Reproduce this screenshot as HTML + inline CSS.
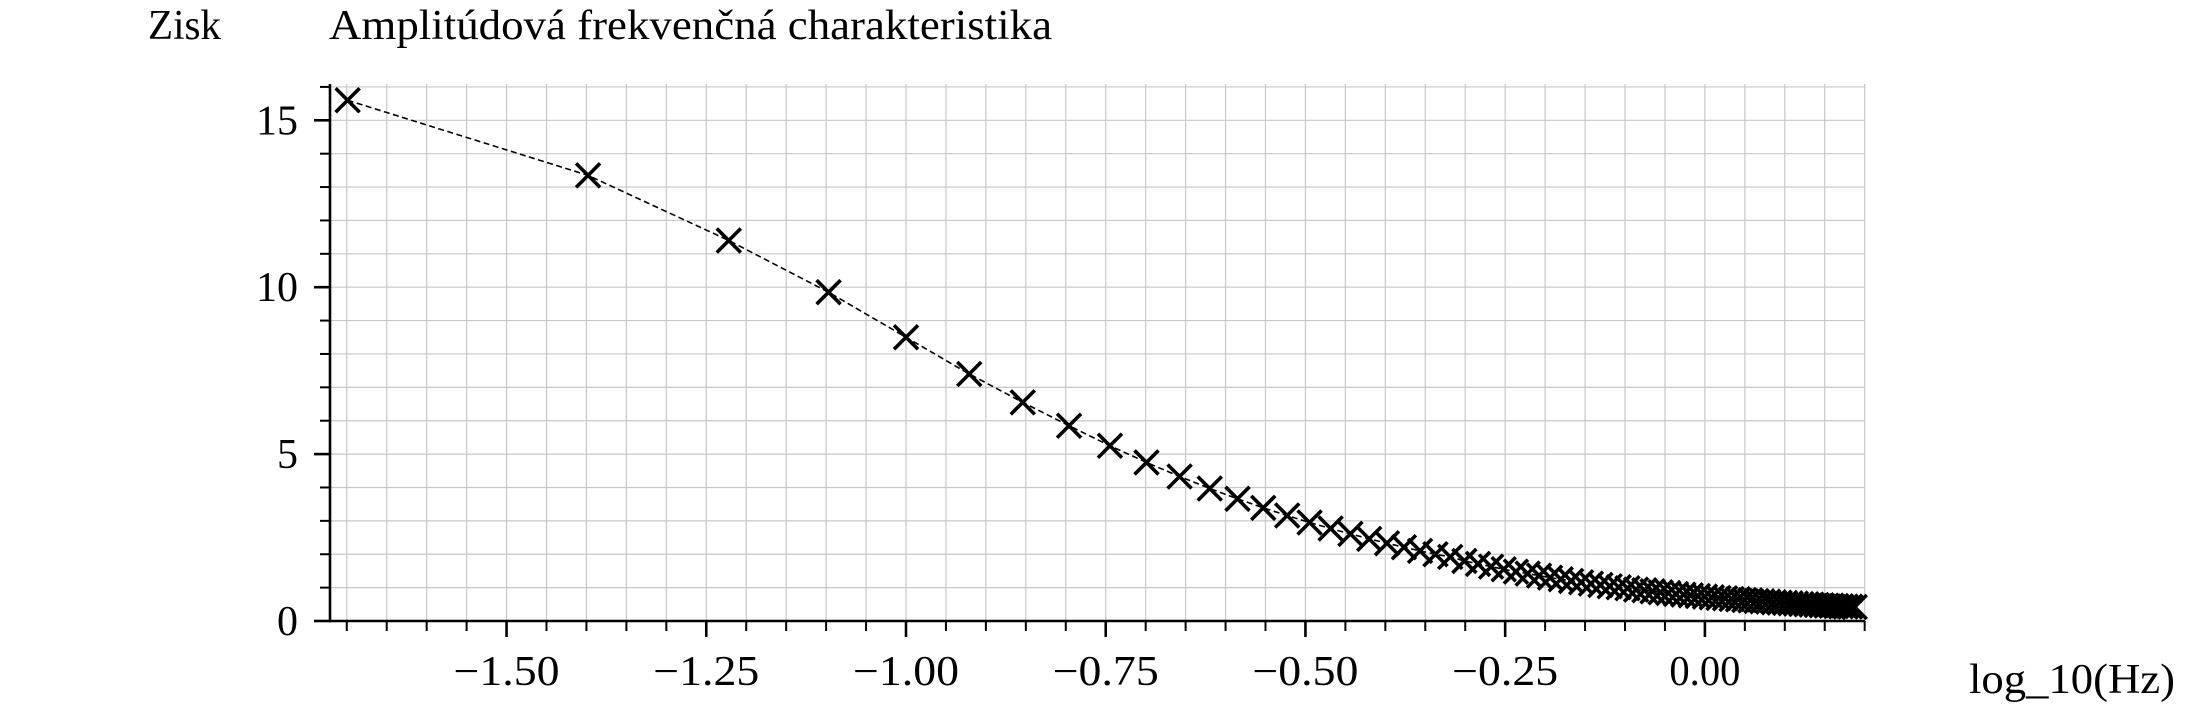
<!DOCTYPE html>
<html><head><meta charset="utf-8"><style>
html,body{margin:0;padding:0;background:#fff;}
svg{display:block;font-family:"Liberation Serif",serif;}
</style></head><body>
<svg id="chart" width="2193" height="708" viewBox="0 0 2193 708">
<text x="148" y="39" font-size="42" textLength="73" lengthAdjust="spacingAndGlyphs">Zisk</text>
<text x="329" y="39" font-size="42" textLength="723" lengthAdjust="spacingAndGlyphs">Amplitúdová frekvenčná charakteristika</text>
<text x="1969" y="693" font-size="42" textLength="206" lengthAdjust="spacingAndGlyphs">log_10(Hz)</text>
<g id="grid"></g>
<g id="axes"></g>
<g id="series"></g>
</svg>
<script>
const freqs = [0.02,0.04,0.06,0.08,0.10,0.12,0.14,0.16,0.18,0.20,0.22,0.24,0.26,0.28,0.30,0.32,0.34,0.36,0.38,0.40,0.42,0.44,0.46,0.48,0.50,0.52,0.54,0.56,0.58,0.60,0.62,0.64,0.66,0.68,0.70,0.72,0.74,0.76,0.78,0.80,0.82,0.84,0.86,0.88,0.90,0.92,0.94,0.96,0.98,1.00,1.02,1.04,1.06,1.08,1.10,1.12,1.14,1.16,1.18,1.20,1.22,1.24,1.26,1.28,1.30,1.32,1.34,1.36,1.38,1.40,1.42,1.44,1.46,1.48,1.50,1.52,1.54];
const gains = [15.6,13.35,11.4,9.85,8.5,7.4,6.55,5.85,5.25,4.75,4.33,3.97,3.66,3.39,3.16,2.95,2.77,2.61,2.46,2.33,2.21,2.10,2.00,1.92,1.80,1.71,1.63,1.55,1.48,1.42,1.36,1.30,1.25,1.20,1.16,1.12,1.08,1.04,1.01,0.98,0.94,0.92,0.89,0.86,0.84,0.81,0.79,0.77,0.75,0.73,0.71,0.69,0.68,0.66,0.65,0.63,0.62,0.60,0.59,0.58,0.56,0.55,0.54,0.53,0.52,0.51,0.50,0.49,0.48,0.47,0.46,0.46,0.45,0.44,0.43,0.43,0.42];
const xTickLabels = ["−1.50","−1.25","−1.00","−0.75","−0.50","−0.25","0.00"];
const xTickValues = [-1.5,-1.25,-1.0,-0.75,-0.5,-0.25,0.0];
const yTickLabels = ["0","5","10","15"];
const yTickValues = [0,5,10,15];

const NS="http://www.w3.org/2000/svg";
const L=330,R=1865,T=84,B=621;
const X0=1704.9, XS=798.9, Y0=621, YS=33.38;
const sx=v=>X0+v*XS, sy=v=>Y0-v*YS;
function mk(tag,attrs,parent){const e=document.createElementNS(NS,tag);for(const k in attrs)e.setAttribute(k,attrs[k]);parent.appendChild(e);return e;}
const grid=document.getElementById('grid'),axes=document.getElementById('axes'),series=document.getElementById('series');
for(let i=-40;i<=4;i++){const v=i*0.05;const x=sx(v);if(x<L-0.5||x>R)continue;
 const g=mk('line',{x1:x,x2:x,y1:T,y2:B,stroke:'#c8c8c8','stroke-width':1.2},grid);
 
 const major=Math.abs(i%5)===0;
 const t=mk('line',{x1:x,x2:x,y1:B,y2:B+(major?16:10),stroke:'#000','stroke-width':major?2.6:2},axes);
 }
for(let i=0;i<=16;i++){const y=sy(i);
 const g=mk('line',{x1:L,x2:R,y1:y,y2:y,stroke:'#c8c8c8','stroke-width':1.2},grid);
 
 const major=i%5===0;
 const t=mk('line',{x1:L-(major?16:10),x2:L,y1:y,y2:y,stroke:'#000','stroke-width':major?2.6:2},axes);
 }
xTickLabels.forEach((s,i)=>{const w=s.length===5?106:71;
 const t=mk('text',{x:sx(xTickValues[i])-w/2,y:685,'font-size':42,textLength:w,lengthAdjust:'spacingAndGlyphs'},axes);t.textContent=s;
 });
yTickLabels.forEach((s,i)=>{const t=mk('text',{x:L-32,y:sy(yTickValues[i])+14,'font-size':42,'text-anchor':'end'},axes);t.textContent=s;
 });
const ya=mk('line',{x1:L,x2:L,y1:T,y2:B+1.3,stroke:'#000','stroke-width':2.6},axes);

const xa=mk('line',{x1:L-1.3,x2:R,y1:B,y2:B,stroke:'#000','stroke-width':2.6},axes);

const pts=freqs.map((f,i)=>[sx(Math.log10(f)),sy(gains[i])]);
const pl=mk('polyline',{points:pts.map(p=>p.join(',')).join(' '),fill:'none',stroke:'#000','stroke-width':1.6,'stroke-dasharray':'6,3.5'},series);

const m=12;
pts.forEach(([x,y])=>{const p=mk('path',{d:`M${x-m},${y-m}L${x+m},${y+m}M${x-m},${y+m}L${x+m},${y-m}`,stroke:'#000','stroke-width':3.6,fill:'none'},series);
 });
</script>
</body></html>
